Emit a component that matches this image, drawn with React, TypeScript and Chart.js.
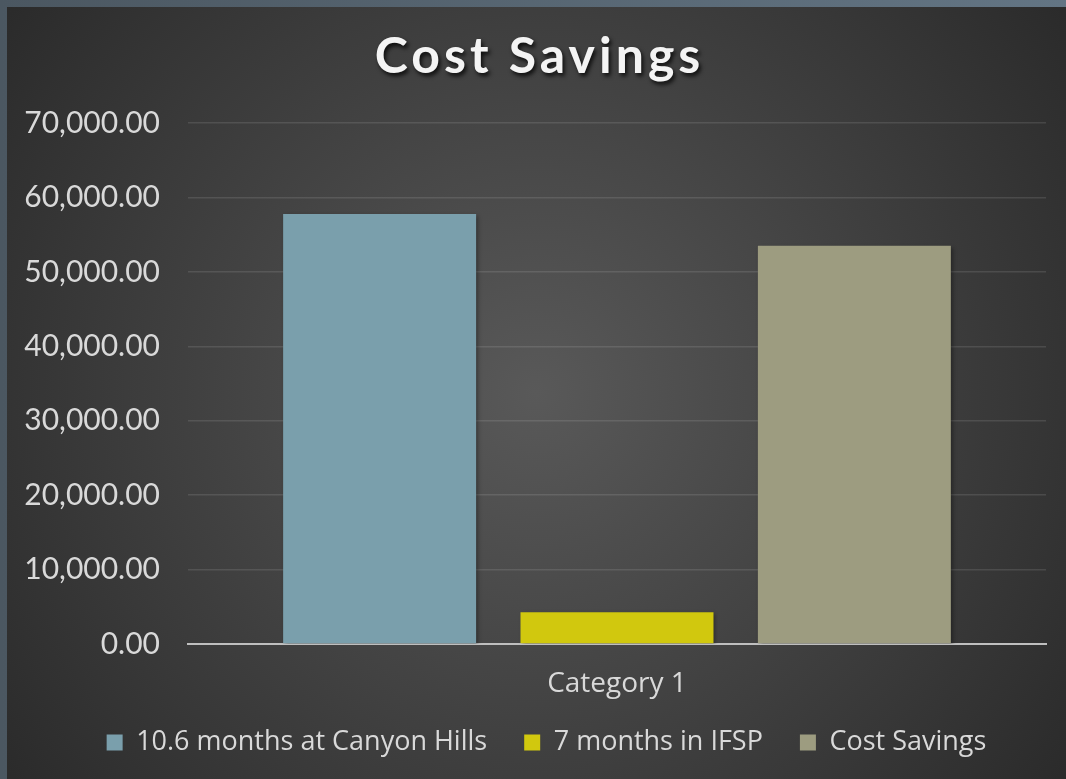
import React, { useEffect, useRef } from "react";
import { Chart, registerables } from "chart.js";

Chart.register(...registerables);

const categories = ["Category 1"];
const seriesNames = ["10.6 months at Canyon Hills", "7 months in IFSP", "Cost Savings"];
const canyonHillsValues = [57770];
const ifspValues = [4270];
const costSavingsValues = [53500];
const seriesColors = ["#7a9fac", "#d1c80e", "#9d9c80"];
const yMax = 70000;
const yStep = 10000;
const titleText = "Cost Savings";

const FONT = "Lato, 'Open Sans', sans-serif";
const LEGEND_FONT = "'Open Sans', Lato, sans-serif";

const decorPlugin = {
  id: "decor",
  beforeDraw(chart: any) {
    const { ctx, width, height } = chart;
    ctx.save();
    const cx = width * 0.5;
    const cy = height * 0.5;
    const g = ctx.createRadialGradient(cx, cy, 0, cx, cy, Math.hypot(width, height) * 0.55);
    g.addColorStop(0, "#595959");
    g.addColorStop(1, "#262626");
    ctx.fillStyle = g;
    ctx.fillRect(0, 0, width, height);
    ctx.restore();
  },
  beforeDatasetsDraw(chart: any) {
    const { ctx } = chart;
    ctx.save();
    ctx.shadowColor = "rgba(0,0,0,0.35)";
    ctx.shadowOffsetX = 2;
    ctx.shadowOffsetY = 2;
    ctx.shadowBlur = 4;
  },
  afterDatasetsDraw(chart: any) {
    chart.ctx.restore();
  },
  afterDraw(chart: any) {
    const { ctx } = chart;
    const tb = chart.titleBlock;
    if (!tb) return;
    const topPad = 20;
    const size = 50;
    ctx.save();
    ctx.font = `bold ${size}px ${FONT}`;
    (ctx as any).letterSpacing = "4px";
    ctx.fillStyle = "#f4f4f4";
    ctx.textAlign = "center";
    ctx.textBaseline = "middle";
    ctx.shadowColor = "rgba(0,0,0,0.8)";
    ctx.shadowOffsetX = 2;
    ctx.shadowOffsetY = 3;
    ctx.shadowBlur = 4;
    ctx.fillText(titleText, (tb.left + tb.right) / 2 - 7, tb.top + topPad + (size * 1.2) / 2);
    ctx.restore();
  },
};

export default function App() {
  const ref = useRef<HTMLCanvasElement | null>(null);

  useEffect(() => {
    if (!ref.current) return;
    const chart = new Chart(ref.current, {
      type: "bar",
      data: {
        labels: categories,
        datasets: [
          { label: seriesNames[0], data: canyonHillsValues, backgroundColor: seriesColors[0] },
          { label: seriesNames[1], data: ifspValues, backgroundColor: seriesColors[1] },
          { label: seriesNames[2], data: costSavingsValues, backgroundColor: seriesColors[2] },
        ],
      },
      options: {
        responsive: false,
        animation: false,
        devicePixelRatio: 1,
        layout: { padding: { left: 40, right: 20, top: 0, bottom: 13 } },
        datasets: {
          bar: { categoryPercentage: 0.83, barPercentage: 0.813 },
        },
        plugins: {
          title: {
            display: true,
            text: titleText,
            color: "rgba(0,0,0,0)",
            font: { family: FONT, size: 50, weight: "bold" },
            padding: { top: 20, bottom: 36 },
          },
          legend: {
            position: "bottom",
            labels: {
              color: "#d9d9d9",
              font: { family: LEGEND_FONT, size: 27 },
              boxWidth: 16,
              boxHeight: 16,
              padding: 37,
            },
          },
          tooltip: { enabled: false },
        },
        scales: {
          x: {
            grid: { display: false, drawTicks: false },
            border: { display: true, color: "#bfbfbf", width: 2 },
            ticks: { color: "#d9d9d9", font: { family: LEGEND_FONT, size: 28 }, padding: 23 },
            afterFit(scale: any) {
              scale.height = 48;
              scale._computeLabelArea = () => undefined;
            },
          },
          y: {
            min: 0,
            max: yMax,
            grid: { color: "rgba(255,255,255,0.11)", lineWidth: 1.5, drawTicks: false },
            border: { display: false },
            ticks: {
              stepSize: yStep,
              color: "#d9d9d9",
              font: { family: FONT, size: 30 },
              padding: 28,
              callback: (v: any) =>
                Number(v).toLocaleString("en-US", { minimumFractionDigits: 2, maximumFractionDigits: 2 }),
            },
            afterFit(scale: any) {
              scale.width = 141;
              scale._computeLabelArea = () => undefined;
            },
          },
        },
      },
      plugins: [decorPlugin],
    });
    return () => chart.destroy();
  }, []);

  return (
    <div
      style={{
        position: "fixed",
        left: 0,
        top: 0,
        width: 1066,
        height: 779,
        background: "linear-gradient(to right, #4b5761, #637584)",
        overflow: "hidden",
      }}
    >
      <canvas
        ref={ref}
        width={1059}
        height={772}
        style={{ position: "absolute", left: 7, top: 7, width: 1059, height: 772 }}
      />
    </div>
  );
}
